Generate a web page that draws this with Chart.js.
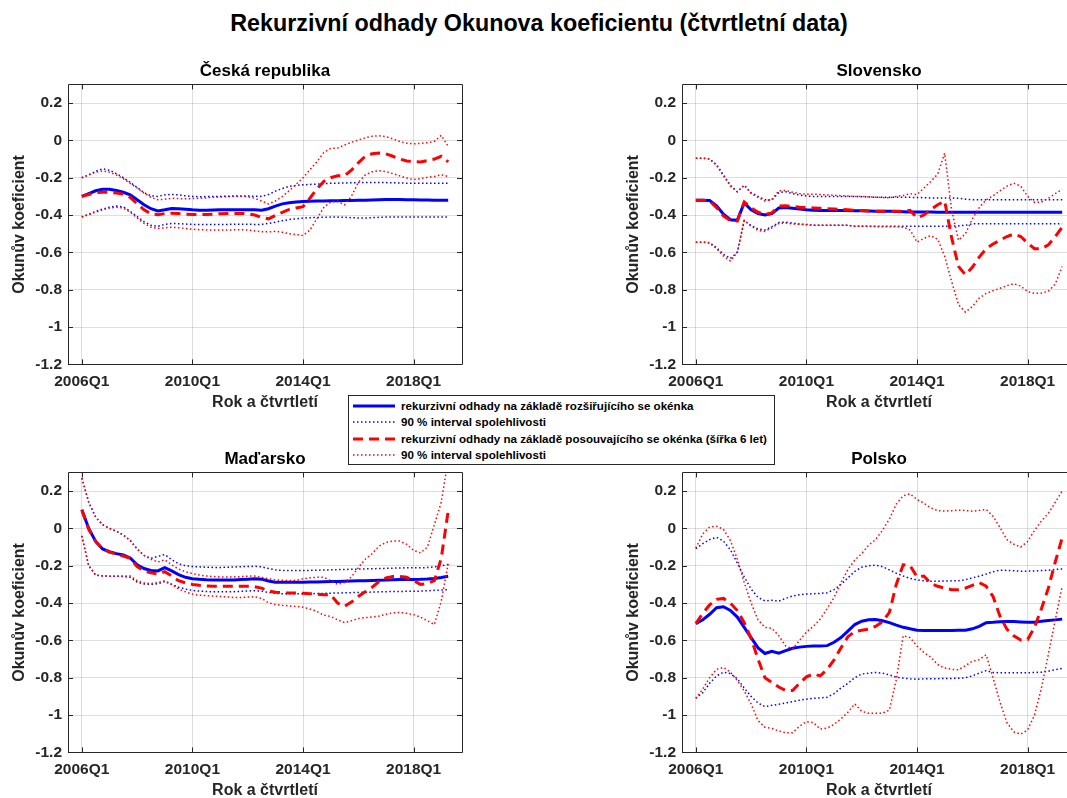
<!DOCTYPE html>
<html lang="cs">
<head>
<meta charset="utf-8">
<title>Rekurzivní odhady Okunova koeficientu</title>
<script src="https://cdn.jsdelivr.net/npm/chart.js@4.4.1/dist/chart.umd.min.js"></script>
<style>
  html, body { margin: 0; padding: 0; background: #fff; overflow: hidden; }
  #page { position: relative; width: 1067px; height: 798px; overflow: hidden;
          font-family: 'Liberation Sans', Arial, Helvetica, sans-serif; }
  #title { position: absolute; left: 0; top: 10px; width: 1078px; line-height: 26px;
           text-align: center; font-weight: bold; font-size: 23.3px; color: #000; }
  canvas { position: absolute; }
  #legend { position: absolute; left: 348px; top: 395px; width: 427px; height: 70px;
            box-sizing: border-box; border: 1px solid #262626; background: #fff;
            padding-top: 2px; font-weight: bold; font-size: 11.6px; color: #000; z-index: 2; }
  #legend .row { position: relative; height: 16.3px; line-height: 16px; padding-left: 52px; white-space: nowrap; }
  #legend svg { position: absolute; left: 4px; top: 4px; }
</style>
</head>
<body>
<div id="page">
  <div id="title">Rekurzivní odhady Okunova koeficientu (čtvrtletní data)</div>
  <canvas id="cz" width="480" height="355" style="left:0px;top:57px"></canvas>
  <canvas id="sk" width="480" height="355" style="left:614px;top:57px"></canvas>
  <canvas id="hu" width="480" height="355" style="left:0px;top:445px"></canvas>
  <canvas id="pl" width="480" height="355" style="left:614px;top:445px"></canvas>
  <div id="legend">
    <div class="row"><svg width="42" height="8"><line x1="0" y1="4" x2="42" y2="4" stroke="#0000ff" stroke-width="3"/></svg>rekurzivní odhady na základě rozšiřujícího se okénka</div>
    <div class="row"><svg width="42" height="8"><line x1="0" y1="4" x2="42" y2="4" stroke="#0000ff" stroke-width="1.5" stroke-dasharray="1.5 2.5"/></svg>90 % interval spolehlivosti</div>
    <div class="row"><svg width="42" height="8"><line x1="0" y1="4" x2="42" y2="4" stroke="#ff0000" stroke-width="3" stroke-dasharray="10 6"/></svg>rekurzivní odhady na základě posouvajícího se okénka (šířka 6 let)</div>
    <div class="row"><svg width="42" height="8"><line x1="0" y1="4" x2="42" y2="4" stroke="#ff0000" stroke-width="1.5" stroke-dasharray="1.5 2.5"/></svg>90 % interval spolehlivosti</div>
  </div>
</div>
<script>
// quarters on the x axis
const quarters = [
  '2006Q1','2006Q2','2006Q3','2006Q4','2007Q1','2007Q2','2007Q3','2007Q4',
  '2008Q1','2008Q2','2008Q3','2008Q4','2009Q1','2009Q2','2009Q3','2009Q4',
  '2010Q1','2010Q2','2010Q3','2010Q4','2011Q1','2011Q2','2011Q3','2011Q4',
  '2012Q1','2012Q2','2012Q3','2012Q4','2013Q1','2013Q2','2013Q3','2013Q4',
  '2014Q1','2014Q2','2014Q3','2014Q4','2015Q1','2015Q2','2015Q3','2015Q4',
  '2016Q1','2016Q2','2016Q3','2016Q4','2017Q1','2017Q2','2017Q3','2017Q4',
  '2018Q1','2018Q2','2018Q3','2018Q4','2019Q1','2019Q2'
];
const xTickLabels = ['2006Q1', '2010Q1', '2014Q1', '2018Q1'];
const yTicks = [-1.2, -1, -0.8, -0.6, -0.4, -0.2, 0, 0.2];

// Česká republika
const czRec = [-0.300,-0.285,-0.270,-0.262,-0.262,-0.268,-0.278,-0.292,-0.318,-0.345,
  -0.366,-0.378,-0.372,-0.365,-0.366,-0.369,-0.372,-0.374,-0.374,-0.373,
  -0.372,-0.371,-0.371,-0.371,-0.371,-0.372,-0.374,-0.366,-0.352,-0.340,
  -0.334,-0.330,-0.327,-0.326,-0.325,-0.324,-0.323,-0.323,-0.322,-0.322,
  -0.321,-0.320,-0.319,-0.318,-0.317,-0.317,-0.317,-0.318,-0.318,-0.319,
  -0.319,-0.320,-0.320,-0.320];
const czRecHi = [-0.200,-0.185,-0.165,-0.152,-0.160,-0.178,-0.200,-0.225,-0.252,-0.280,
  -0.297,-0.300,-0.292,-0.289,-0.292,-0.297,-0.300,-0.302,-0.301,-0.300,
  -0.300,-0.299,-0.298,-0.298,-0.298,-0.299,-0.300,-0.290,-0.272,-0.258,
  -0.246,-0.241,-0.238,-0.236,-0.234,-0.232,-0.230,-0.229,-0.228,-0.227,
  -0.226,-0.225,-0.225,-0.225,-0.226,-0.227,-0.228,-0.229,-0.229,-0.229,
  -0.229,-0.229,-0.229,-0.229];
const czRecLo = [-0.410,-0.395,-0.380,-0.368,-0.358,-0.352,-0.356,-0.380,-0.408,-0.435,
  -0.455,-0.460,-0.450,-0.445,-0.446,-0.448,-0.450,-0.450,-0.450,-0.450,
  -0.450,-0.450,-0.449,-0.449,-0.449,-0.450,-0.450,-0.445,-0.438,-0.430,
  -0.424,-0.420,-0.416,-0.414,-0.413,-0.412,-0.411,-0.411,-0.412,-0.414,
  -0.416,-0.416,-0.414,-0.412,-0.411,-0.411,-0.411,-0.411,-0.411,-0.411,
  -0.411,-0.411,-0.411,-0.411];
const czRoll = [-0.300,-0.290,-0.280,-0.278,-0.278,-0.282,-0.288,-0.305,-0.340,-0.372,
  -0.393,-0.398,-0.392,-0.390,-0.392,-0.395,-0.397,-0.398,-0.397,-0.395,
  -0.393,-0.392,-0.391,-0.391,-0.393,-0.400,-0.412,-0.420,-0.402,-0.385,
  -0.370,-0.362,-0.355,-0.310,-0.260,-0.220,-0.200,-0.190,-0.190,-0.160,
  -0.120,-0.085,-0.072,-0.068,-0.072,-0.085,-0.100,-0.110,-0.114,-0.116,
  -0.108,-0.100,-0.085,-0.115];
const czRollHi = [-0.200,-0.185,-0.170,-0.163,-0.170,-0.185,-0.205,-0.230,-0.255,-0.282,
  -0.305,-0.318,-0.315,-0.310,-0.312,-0.312,-0.312,-0.310,-0.308,-0.305,
  -0.303,-0.302,-0.300,-0.300,-0.302,-0.310,-0.325,-0.340,-0.325,-0.300,
  -0.270,-0.235,-0.200,-0.157,-0.115,-0.065,-0.043,-0.041,-0.025,-0.010,
  0.002,0.014,0.022,0.025,0.020,0.008,-0.006,-0.015,-0.018,-0.016,
  -0.012,-0.005,0.027,-0.032];
const czRollLo = [-0.410,-0.398,-0.385,-0.372,-0.362,-0.358,-0.362,-0.385,-0.415,-0.445,
  -0.465,-0.472,-0.468,-0.465,-0.468,-0.472,-0.476,-0.478,-0.480,-0.480,
  -0.480,-0.480,-0.479,-0.478,-0.480,-0.485,-0.490,-0.490,-0.487,-0.492,
  -0.500,-0.505,-0.510,-0.480,-0.420,-0.360,-0.330,-0.327,-0.345,-0.300,
  -0.225,-0.185,-0.168,-0.163,-0.167,-0.178,-0.190,-0.202,-0.210,-0.205,
  -0.198,-0.193,-0.184,-0.193];

// Slovensko
const skRec = [-0.320,-0.320,-0.322,-0.350,-0.395,-0.425,-0.428,-0.335,-0.372,-0.392,
  -0.400,-0.392,-0.362,-0.360,-0.364,-0.368,-0.372,-0.374,-0.375,-0.375,
  -0.376,-0.376,-0.376,-0.377,-0.377,-0.378,-0.379,-0.380,-0.380,-0.381,
  -0.382,-0.383,-0.383,-0.384,-0.384,-0.385,-0.385,-0.385,-0.385,-0.385,
  -0.385,-0.385,-0.385,-0.385,-0.385,-0.385,-0.385,-0.385,-0.385,-0.385,
  -0.385,-0.385,-0.385,-0.385];
const skRecHi = [-0.095,-0.095,-0.100,-0.130,-0.185,-0.240,-0.275,-0.240,-0.280,-0.300,
  -0.318,-0.320,-0.280,-0.275,-0.285,-0.293,-0.298,-0.300,-0.300,-0.300,
  -0.300,-0.300,-0.300,-0.300,-0.302,-0.303,-0.305,-0.305,-0.305,-0.305,
  -0.305,-0.305,-0.306,-0.307,-0.308,-0.308,-0.308,-0.308,-0.310,-0.315,
  -0.318,-0.318,-0.318,-0.318,-0.318,-0.318,-0.318,-0.318,-0.318,-0.318,
  -0.318,-0.318,-0.318,-0.318];
const skRecLo = [-0.545,-0.545,-0.548,-0.575,-0.610,-0.632,-0.600,-0.430,-0.455,-0.475,
  -0.480,-0.462,-0.440,-0.438,-0.443,-0.448,-0.450,-0.455,-0.455,-0.455,
  -0.455,-0.455,-0.455,-0.460,-0.460,-0.460,-0.460,-0.460,-0.460,-0.460,
  -0.460,-0.460,-0.460,-0.460,-0.460,-0.460,-0.460,-0.459,-0.458,-0.455,
  -0.447,-0.446,-0.446,-0.446,-0.446,-0.446,-0.446,-0.446,-0.446,-0.446,
  -0.446,-0.446,-0.446,-0.446];
const skRoll = [-0.320,-0.320,-0.325,-0.360,-0.405,-0.430,-0.432,-0.330,-0.362,-0.385,
  -0.398,-0.388,-0.352,-0.350,-0.354,-0.358,-0.360,-0.362,-0.364,-0.366,
  -0.368,-0.370,-0.372,-0.374,-0.376,-0.378,-0.380,-0.380,-0.380,-0.380,
  -0.380,-0.375,-0.415,-0.400,-0.370,-0.345,-0.325,-0.520,-0.675,-0.720,
  -0.680,-0.625,-0.580,-0.555,-0.535,-0.515,-0.502,-0.515,-0.550,-0.580,
  -0.580,-0.560,-0.515,-0.465];
const skRollHi = [-0.095,-0.095,-0.100,-0.135,-0.190,-0.245,-0.275,-0.240,-0.285,-0.305,
  -0.325,-0.315,-0.270,-0.268,-0.278,-0.285,-0.288,-0.288,-0.290,-0.292,
  -0.294,-0.296,-0.298,-0.300,-0.300,-0.302,-0.304,-0.306,-0.308,-0.300,
  -0.295,-0.285,-0.290,-0.255,-0.220,-0.180,-0.068,-0.370,-0.535,-0.500,
  -0.420,-0.360,-0.318,-0.297,-0.270,-0.245,-0.229,-0.245,-0.300,-0.332,
  -0.330,-0.310,-0.285,-0.262];
const skRollLo = [-0.545,-0.545,-0.550,-0.580,-0.620,-0.645,-0.600,-0.428,-0.460,-0.482,
  -0.488,-0.468,-0.445,-0.443,-0.447,-0.450,-0.452,-0.455,-0.455,-0.455,
  -0.455,-0.455,-0.455,-0.460,-0.460,-0.460,-0.462,-0.462,-0.462,-0.462,
  -0.465,-0.480,-0.545,-0.525,-0.510,-0.530,-0.620,-0.755,-0.880,-0.920,
  -0.890,-0.845,-0.820,-0.805,-0.792,-0.778,-0.768,-0.780,-0.810,-0.820,
  -0.818,-0.808,-0.770,-0.675];

// Maďarsko
const huRec = [0.100,0.000,-0.070,-0.110,-0.125,-0.135,-0.142,-0.158,-0.195,-0.215,
  -0.225,-0.228,-0.210,-0.228,-0.248,-0.262,-0.270,-0.273,-0.275,-0.276,
  -0.277,-0.277,-0.276,-0.274,-0.272,-0.270,-0.272,-0.282,-0.288,-0.289,
  -0.289,-0.288,-0.288,-0.287,-0.287,-0.286,-0.285,-0.284,-0.283,-0.282,
  -0.281,-0.280,-0.279,-0.278,-0.277,-0.275,-0.274,-0.274,-0.274,-0.273,
  -0.271,-0.268,-0.263,-0.256];
const huRecHi = [0.270,0.140,0.060,0.020,0.000,-0.015,-0.035,-0.065,-0.110,-0.145,
  -0.160,-0.150,-0.140,-0.168,-0.190,-0.200,-0.204,-0.206,-0.208,-0.209,
  -0.209,-0.208,-0.207,-0.205,-0.204,-0.203,-0.206,-0.215,-0.222,-0.225,
  -0.225,-0.225,-0.225,-0.225,-0.224,-0.223,-0.222,-0.221,-0.220,-0.219,
  -0.218,-0.217,-0.216,-0.215,-0.214,-0.213,-0.212,-0.211,-0.211,-0.211,
  -0.210,-0.206,-0.200,-0.194];
const huRecLo = [-0.040,-0.200,-0.250,-0.255,-0.256,-0.256,-0.258,-0.262,-0.288,-0.298,
  -0.300,-0.296,-0.285,-0.300,-0.315,-0.325,-0.332,-0.336,-0.338,-0.340,
  -0.340,-0.340,-0.339,-0.337,-0.335,-0.334,-0.336,-0.343,-0.348,-0.350,
  -0.350,-0.350,-0.350,-0.350,-0.349,-0.348,-0.347,-0.346,-0.345,-0.344,
  -0.343,-0.342,-0.341,-0.340,-0.339,-0.338,-0.338,-0.337,-0.337,-0.336,
  -0.334,-0.332,-0.330,-0.328];
const huRoll = [0.100,-0.005,-0.070,-0.110,-0.127,-0.138,-0.148,-0.160,-0.205,-0.228,
  -0.238,-0.245,-0.232,-0.255,-0.280,-0.292,-0.300,-0.305,-0.308,-0.310,
  -0.310,-0.310,-0.310,-0.310,-0.310,-0.312,-0.320,-0.335,-0.342,-0.345,
  -0.346,-0.346,-0.347,-0.350,-0.352,-0.355,-0.355,-0.400,-0.418,-0.395,
  -0.365,-0.340,-0.315,-0.285,-0.265,-0.258,-0.257,-0.262,-0.280,-0.300,
  -0.295,-0.280,-0.160,0.093];
const huRollHi = [0.270,0.140,0.060,0.020,0.000,-0.015,-0.035,-0.065,-0.110,-0.145,
  -0.165,-0.180,-0.168,-0.195,-0.218,-0.232,-0.242,-0.250,-0.255,-0.258,
  -0.260,-0.260,-0.260,-0.258,-0.256,-0.255,-0.262,-0.270,-0.276,-0.278,
  -0.280,-0.278,-0.270,-0.265,-0.262,-0.262,-0.280,-0.300,-0.290,-0.260,
  -0.210,-0.165,-0.135,-0.095,-0.075,-0.068,-0.068,-0.085,-0.118,-0.131,
  -0.100,0.020,0.140,0.370];
const huRollLo = [-0.040,-0.200,-0.250,-0.255,-0.256,-0.256,-0.255,-0.255,-0.280,-0.292,
  -0.296,-0.290,-0.280,-0.300,-0.325,-0.340,-0.352,-0.358,-0.360,-0.362,
  -0.365,-0.367,-0.370,-0.370,-0.368,-0.366,-0.375,-0.398,-0.408,-0.412,
  -0.415,-0.418,-0.422,-0.432,-0.445,-0.465,-0.472,-0.490,-0.505,-0.495,
  -0.483,-0.478,-0.475,-0.470,-0.460,-0.452,-0.450,-0.455,-0.462,-0.475,
  -0.495,-0.515,-0.390,-0.190];

// Polsko
const plRec = [-0.510,-0.490,-0.460,-0.425,-0.420,-0.440,-0.475,-0.530,-0.585,-0.640,
  -0.670,-0.658,-0.668,-0.655,-0.642,-0.636,-0.632,-0.630,-0.630,-0.628,
  -0.610,-0.585,-0.550,-0.515,-0.497,-0.490,-0.488,-0.495,-0.505,-0.518,
  -0.530,-0.538,-0.545,-0.547,-0.547,-0.547,-0.547,-0.547,-0.546,-0.545,
  -0.538,-0.525,-0.505,-0.503,-0.500,-0.499,-0.499,-0.501,-0.503,-0.503,
  -0.498,-0.494,-0.490,-0.486];
const plRecHi = [-0.108,-0.082,-0.060,-0.048,-0.068,-0.115,-0.185,-0.260,-0.325,-0.370,
  -0.388,-0.385,-0.390,-0.375,-0.362,-0.355,-0.352,-0.350,-0.348,-0.345,
  -0.328,-0.300,-0.265,-0.230,-0.208,-0.200,-0.197,-0.205,-0.222,-0.240,
  -0.255,-0.268,-0.276,-0.281,-0.283,-0.283,-0.282,-0.281,-0.280,-0.275,
  -0.265,-0.256,-0.245,-0.232,-0.224,-0.225,-0.227,-0.229,-0.229,-0.228,
  -0.226,-0.224,-0.220,-0.217];
const plRecLo = [-0.910,-0.880,-0.830,-0.790,-0.770,-0.778,-0.805,-0.855,-0.900,-0.935,
  -0.955,-0.948,-0.942,-0.935,-0.928,-0.920,-0.915,-0.910,-0.908,-0.905,
  -0.885,-0.855,-0.830,-0.800,-0.780,-0.776,-0.772,-0.775,-0.785,-0.797,
  -0.802,-0.806,-0.808,-0.806,-0.805,-0.805,-0.804,-0.804,-0.803,-0.800,
  -0.790,-0.775,-0.762,-0.772,-0.773,-0.773,-0.773,-0.773,-0.773,-0.772,
  -0.770,-0.765,-0.757,-0.750];
const plRoll = [-0.510,-0.455,-0.410,-0.380,-0.375,-0.400,-0.440,-0.505,-0.590,-0.700,
  -0.800,-0.825,-0.850,-0.868,-0.868,-0.830,-0.795,-0.780,-0.790,-0.755,
  -0.705,-0.640,-0.580,-0.552,-0.546,-0.540,-0.525,-0.500,-0.450,-0.300,
  -0.195,-0.200,-0.260,-0.255,-0.295,-0.310,-0.320,-0.328,-0.328,-0.320,
  -0.305,-0.290,-0.310,-0.365,-0.470,-0.540,-0.575,-0.598,-0.595,-0.530,
  -0.430,-0.320,-0.180,-0.050];
const plRollHi = [-0.105,-0.030,0.008,0.012,-0.005,-0.065,-0.165,-0.290,-0.400,-0.490,
  -0.530,-0.535,-0.575,-0.630,-0.645,-0.600,-0.555,-0.525,-0.485,-0.430,
  -0.370,-0.290,-0.220,-0.170,-0.135,-0.090,-0.060,-0.010,0.050,0.130,
  0.175,0.185,0.155,0.135,0.110,0.095,0.093,0.095,0.098,0.096,
  0.092,0.096,0.102,0.065,0.005,-0.060,-0.085,-0.100,-0.070,-0.010,
  0.040,0.080,0.140,0.200];
const plRollLo = [-0.910,-0.860,-0.800,-0.755,-0.745,-0.770,-0.815,-0.870,-0.940,-1.030,
  -1.065,-1.072,-1.085,-1.095,-1.095,-1.060,-1.035,-1.040,-1.075,-1.070,
  -1.050,-1.020,-0.985,-0.940,-0.980,-0.990,-0.990,-0.990,-0.973,-0.810,
  -0.575,-0.585,-0.630,-0.665,-0.690,-0.730,-0.748,-0.755,-0.758,-0.735,
  -0.712,-0.703,-0.677,-0.800,-0.930,-1.040,-1.090,-1.102,-1.080,-1.000,
  -0.855,-0.675,-0.490,-0.310];

const FONT = "'Liberation Sans', Arial, Helvetica, sans-serif";
const BLUE = '#0000ff';
const RED = '#ff0000';
const AXIS = '#262626';
const GRID = 'rgba(0, 0, 0, 0.13)';

// axes box with inward tick marks on all four sides
const boxTicks = {
  id: 'boxTicks',
  afterDraw(chart) {
    const { ctx, chartArea: a, scales: { x, y } } = chart;
    const len = 5;
    ctx.save();
    ctx.strokeStyle = AXIS;
    ctx.lineWidth = 1;
    ctx.beginPath();
    ctx.rect(Math.round(a.left) + 0.5, Math.round(a.top) + 0.5,
             Math.round(a.width), Math.round(a.height));
    x.ticks.forEach(t => {
      const px = Math.round(x.getPixelForValue(t.value)) + 0.5;
      ctx.moveTo(px, a.bottom); ctx.lineTo(px, a.bottom - len);
      ctx.moveTo(px, a.top); ctx.lineTo(px, a.top + len);
    });
    y.ticks.forEach(t => {
      const py = Math.round(y.getPixelForValue(t.value)) + 0.5;
      ctx.moveTo(a.left, py); ctx.lineTo(a.left + len, py);
      ctx.moveTo(a.right, py); ctx.lineTo(a.right - len, py);
    });
    ctx.stroke();
    ctx.restore();
  }
};

function series(values, color, width, dash) {
  return {
    data: values.map((v, i) => ({ x: i, y: v })),
    borderColor: color,
    borderWidth: width,
    borderDash: dash,
    pointRadius: 0,
    tension: 0,
    fill: false
  };
}

function drawPanel(id, title, rec, recHi, recLo, roll, rollHi, rollLo) {
  const dotted = [1.5, 2.5];
  new Chart(document.getElementById(id), {
    type: 'line',
    // first dataset ends up on top
    data: {
      datasets: [
        series(rollLo, RED, 1.5, dotted),
        series(rollHi, RED, 1.5, dotted),
        series(roll, RED, 3, [10, 6]),
        series(recLo, BLUE, 1.5, dotted),
        series(recHi, BLUE, 1.5, dotted),
        series(rec, BLUE, 3, [])
      ]
    },
    options: {
      responsive: false,
      animation: false,
      layout: { padding: { left: 0, right: 18, top: 0, bottom: 0 } },
      plugins: {
        legend: { display: false },
        tooltip: { enabled: false },
        title: {
          display: true, text: title, color: '#000', fullSize: false,
          font: { family: FONT, size: 17, weight: 'bold' },
          padding: { top: 4, bottom: 3 }
        }
      },
      scales: {
        x: {
          type: 'linear', min: -2, max: 55,
          afterFit: s => { s.height = 47.6; },
          afterBuildTicks: s => { s.ticks = xTickLabels.map(q => ({ value: quarters.indexOf(q) })); },
          ticks: {
            callback: v => quarters[v], color: AXIS, padding: 8,
            maxRotation: 0, autoSkip: false,
            font: { family: FONT, size: 15.5, weight: 'bold' }
          },
          grid: { color: GRID, drawTicks: false },
          border: { display: false },
          title: {
            display: true, text: 'Rok a čtvrtletí', color: AXIS,
            font: { family: FONT, size: 16, weight: 'bold' },
            padding: { top: 0, bottom: 0 }
          }
        },
        y: {
          min: -1.2, max: 0.3,
          afterFit: s => { s.width = 68; },
          afterBuildTicks: s => { s.ticks = yTicks.map(v => ({ value: v })); },
          ticks: {
            callback: v => String(+v.toFixed(1)), color: AXIS, padding: 6,
            font: { family: FONT, size: 15.5, weight: 'bold' }
          },
          grid: { color: GRID, drawTicks: false },
          border: { display: false },
          title: {
            display: true, text: 'Okunův koeficient', color: AXIS,
            font: { family: FONT, size: 16, weight: 'bold' },
            padding: { top: 10, bottom: 0 }
          }
        }
      }
    },
    plugins: [boxTicks]
  });
}

drawPanel('cz', 'Česká republika', czRec, czRecHi, czRecLo, czRoll, czRollHi, czRollLo);
drawPanel('sk', 'Slovensko', skRec, skRecHi, skRecLo, skRoll, skRollHi, skRollLo);
drawPanel('hu', 'Maďarsko', huRec, huRecHi, huRecLo, huRoll, huRollHi, huRollLo);
drawPanel('pl', 'Polsko', plRec, plRecHi, plRecLo, plRoll, plRollHi, plRollLo);
</script>
</body>
</html>
